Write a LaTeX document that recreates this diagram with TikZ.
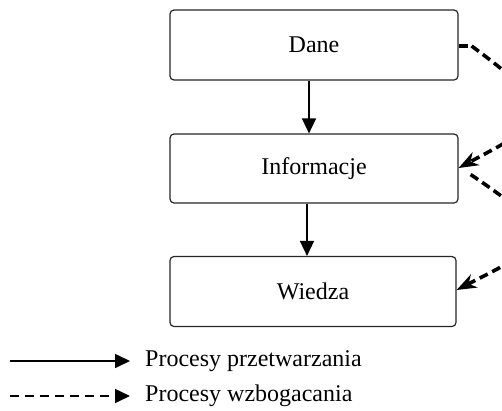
\documentclass[tikz,border=0pt]{standalone}
\usepackage{fontspec}
\setmainfont{Liberation Serif}
\usetikzlibrary{arrows.meta}
\begin{document}
\begin{tikzpicture}[x=1pt,y=1pt,
  box/.style={draw=black!85, line width=1.2pt, rounded corners=4pt, minimum width=288pt, minimum height=70pt, font=\fontsize{24}{28}\selectfont, inner sep=0pt},
  solidarrow/.style={line width=1.6pt, -{Triangle[length=15pt,width=14pt]}},
  enrich/.style={line width=3.6pt, dash pattern=on 9pt off 5pt, -{Stealth[length=20pt,width=15pt,line width=0pt]}},
  lbl/.style={font=\fontsize{24}{28}\selectfont, anchor=west, inner sep=0pt}]
\useasboundingbox (0,0) rectangle (502,-410);
\clip (0,0) rectangle (502,-410);
\node[box] (dane) at (314,-45) {Dane};
\node[box, minimum height=69pt] (info) at (314,-168.5) {Informacje};
\node[box, minimum width=286pt] (wiedza) at (313,-291.5) {Wiedza};
\draw[solidarrow] ([xshift=-5pt]dane.south) -- ([xshift=-5pt]info.north);
\draw[solidarrow] ([xshift=-7pt]info.south) -- ([xshift=-6pt]wiedza.north);
% enrichment curves
\coordinate (s1) at ([xshift=9pt,yshift=-1pt]dane.east);
\draw[line width=3.6pt] ([yshift=-1pt]dane.east) -- (s1);
\draw[enrich] ([xshift=4pt]s1) .. controls (565,-115) and (548,-120) .. ([yshift=0.5pt]info.east);
\coordinate (s2) at ([xshift=12pt,yshift=-6pt]info.east);
\draw[enrich] (s2) .. controls (565,-238) and (548,-243) .. ([yshift=1.5pt]wiedza.east);
% legend
\coordinate (l1a) at (10,-361);
\coordinate (l1b) at (130,-361);
\coordinate (l2a) at (10,-396);
\coordinate (l2b) at (130,-396);
\draw[solidarrow] (l1a) -- (l1b);
\draw[line width=1.6pt, dash pattern=on 9pt off 6pt, -{Triangle[length=15pt,width=14pt]}] (l2a) -- (l2b);
\node[lbl] (t1) at (145,-361) {Procesy przetwarzania};
\node[lbl] (t2) at (145,-396) {Procesy wzbogacania};
\end{tikzpicture}
\end{document}
